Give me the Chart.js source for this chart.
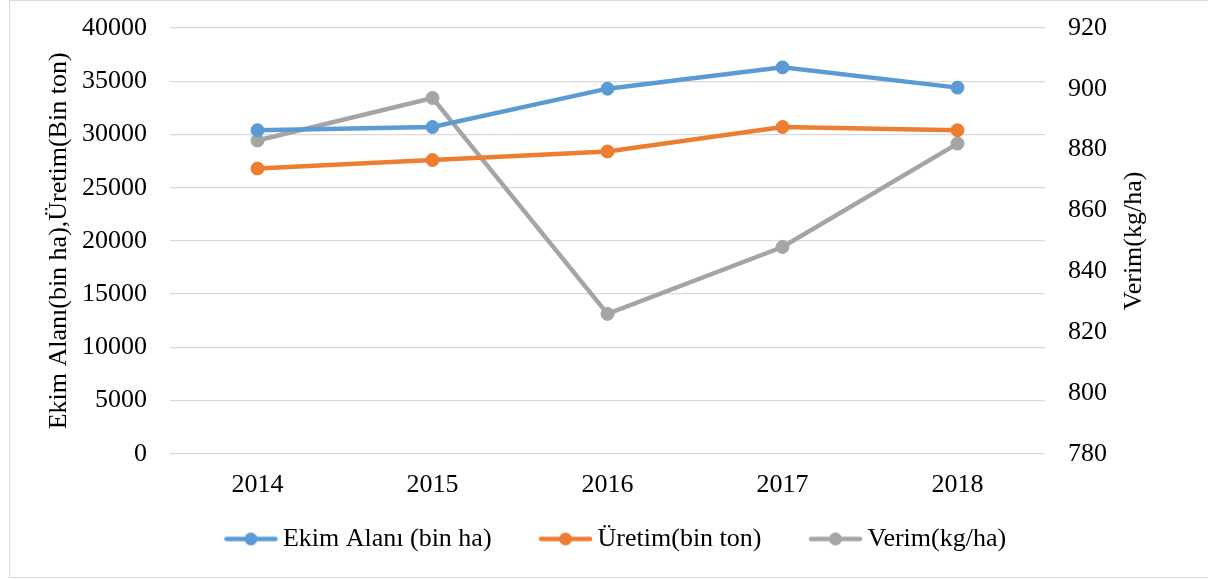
<!DOCTYPE html>
<html>
<head>
<meta charset="utf-8">
<script src="https://cdn.jsdelivr.net/npm/chart.js@4.4.1/dist/chart.umd.min.js"></script>
<style>
    html, body { margin: 0; padding: 0; background: #fff; overflow: hidden; }
    #wrap { position: relative; width: 1208px; height: 579px; overflow: hidden; }
    #frame { position: absolute; left: 9px; top: 0px; width: 1210px; height: 576px; border: 1px solid #d9d9d9; pointer-events: none; }
    canvas { position: absolute; left: 0; top: 0; }
</style>
</head>
<body>
<div id="wrap">
    <canvas id="chart" width="1208" height="579"></canvas>
    <div id="frame"></div>
</div>
<script>
const years = ['2014', '2015', '2016', '2017', '2018'];
const ekimAlani = [30400, 30700, 34300, 36300, 34400];
const uretim = [26800, 27600, 28400, 30700, 30400];
const verim = [883, 897, 826, 848, 882];

const seriesNames = ['Ekim Alanı (bin ha)', 'Üretim(bin ton)', 'Verim(kg/ha)'];
const seriesColors = ['#5B9BD5', '#ED7D31', '#A5A5A5'];

const leftTitle = 'Ekim Alanı(bin ha),Üretim(Bin ton)';
const rightTitle = 'Verim(kg/ha)';

const fontFamily = "'Liberation Serif', 'Times New Roman', serif";
Chart.defaults.font.family = fontFamily;
Chart.defaults.font.size = 26;
Chart.defaults.color = '#000';

// little line + dot used as legend marker
function makeMarker(color) {
    const c = document.createElement('canvas');
    c.width = 55;
    c.height = 15;
    const g = c.getContext('2d');
    g.strokeStyle = color;
    g.lineWidth = 4.5;
    g.lineCap = 'round';
    g.beginPath();
    g.moveTo(3, 7.5);
    g.lineTo(52, 7.5);
    g.stroke();
    g.fillStyle = color;
    g.beginPath();
    g.arc(27.5, 7.5, 6.5, 0, Math.PI * 2);
    g.fill();
    return c;
}
const markers = seriesColors.map(makeMarker);

function lineDataset(label, data, color, axis) {
    return {
        label: label,
        data: data,
        yAxisID: axis,
        borderColor: color,
        backgroundColor: color,
        borderWidth: 4.5,
        pointRadius: 6.5,
        pointBorderWidth: 1,
        pointBackgroundColor: color,
        pointBorderColor: color,
        tension: 0,
    };
}

const legendPadding = 55;

// keep legend box small, then move its top up so the items sit under the x labels
const legendPlacePlugin = {
    id: 'legendPlace',
    beforeInit(chart) {
        const fit = chart.legend.fit;
        chart.legend.fit = function() {
            fit.bind(chart.legend)();
            this.height = 62;
        };
    },
    afterLayout(chart) {
        const lg = chart.legend;
        lg.top = 539 - 13 - legendPadding;
        lg.height = lg.bottom - lg.top;
    }
};

const rightTitlePlugin = {
    id: 'rightTitle',
    afterDraw(chart) {
        const ctx = chart.ctx;
        const area = chart.chartArea;
        ctx.save();
        ctx.translate(1134, (area.top + area.bottom) / 2);
        ctx.rotate(-Math.PI / 2);
        ctx.font = '26px ' + fontFamily;
        ctx.fillStyle = '#000';
        ctx.textAlign = 'center';
        ctx.textBaseline = 'middle';
        ctx.fillText(rightTitle, 0, 0);
        ctx.restore();
    }
};

const plainNumber = value => String(value);

const ctx = document.getElementById('chart').getContext('2d');
new Chart(ctx, {
    type: 'line',
    data: {
        labels: years,
        datasets: [
            lineDataset(seriesNames[0], ekimAlani, seriesColors[0], 'y'),
            lineDataset(seriesNames[1], uretim, seriesColors[1], 'y'),
            lineDataset(seriesNames[2], verim, seriesColors[2], 'y1'),
        ]
    },
    options: {
        responsive: false,
        animation: false,
        layout: {
            padding: { left: 30, right: 0, top: 28, bottom: 0 }
        },
        scales: {
            x: {
                offset: true,
                grid: { display: false, drawTicks: false },
                border: { display: false },
                ticks: { padding: 16 }
            },
            y: {
                position: 'left',
                min: 0,
                max: 40000,
                ticks: { stepSize: 5000, padding: 0, callback: plainNumber },
                grid: { color: '#d9d9d9', lineWidth: 1.3, drawTicks: true, tickLength: 23, tickColor: 'transparent' },
                border: { display: false },
                title: {
                    display: true,
                    text: leftTitle,
                    padding: { top: 14, bottom: 0 }
                },
                afterFit(scale) { scale.width = 140; }
            },
            y1: {
                position: 'right',
                min: 780,
                max: 920,
                ticks: { stepSize: 20, padding: 0, callback: plainNumber },
                grid: { display: true, drawOnChartArea: false, color: 'transparent', drawTicks: true, tickLength: 23, tickColor: 'transparent' },
                border: { display: false },
                afterFit(scale) { scale.width = 163; }
            }
        },
        plugins: {
            legend: {
                position: 'bottom',
                labels: {
                    usePointStyle: true,
                    pointStyleWidth: 38,
                    padding: legendPadding,
                    generateLabels(chart) {
                        const items = Chart.defaults.plugins.legend.labels.generateLabels(chart);
                        items.forEach((item, i) => { item.pointStyle = markers[i]; });
                        return items;
                    }
                }
            },
            tooltip: { enabled: false }
        }
    },
    plugins: [legendPlacePlugin, rightTitlePlugin]
});
</script>
</body>
</html>
